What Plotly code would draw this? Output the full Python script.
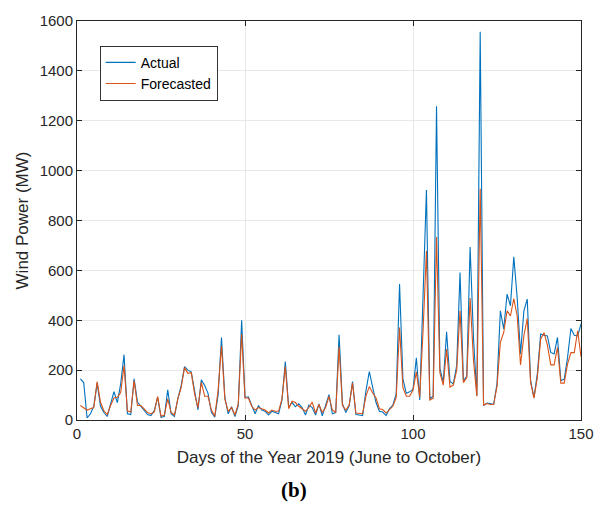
import plotly.graph_objects as go

# Daily wind power, June to October 2019 (MW)
days = list(range(1, 151))

actual = [
    165, 150, 8, 25, 55, 148, 55, 30, 14, 65,
    114, 70, 145, 262, 25, 22, 165, 72, 55, 38,
    22, 18, 38, 92, 11, 14, 121, 25, 14, 85,
    138, 214, 200, 193, 118, 41, 161, 138, 107, 31,
    11, 100, 331, 90, 25, 53, 14, 58, 400, 90,
    93, 60, 25, 57, 40, 35, 20, 35, 30, 25,
    80, 234, 51, 70, 53, 65, 50, 20, 60, 50,
    20, 65, 17, 58, 102, 25, 30, 342, 65, 30,
    57, 154, 22, 20, 18, 118, 194, 131, 70, 35,
    32, 18, 45, 60, 105, 545, 165, 107, 113, 123,
    249, 80, 500, 922, 85, 95, 1258, 208, 151, 354,
    155, 145, 218, 591, 158, 175, 694, 330, 98, 1557,
    58, 68, 66, 62, 145, 438, 365, 505, 458, 654,
    491, 265, 438, 485, 158, 91, 185, 345, 340, 337,
    271, 265, 331, 158, 163, 251, 367, 340, 337, 385,
]

forecasted = [
    58, 50, 40, 45, 50, 154, 71, 37, 22, 58,
    88, 91, 110, 218, 37, 32, 158, 58, 58, 45,
    30, 25, 32, 94, 15, 20, 85, 30, 20, 85,
    130, 210, 187, 190, 105, 50, 151, 95, 95, 40,
    15, 120, 298, 85, 35, 50, 20, 65, 345, 88,
    88, 55, 40, 50, 45, 40, 28, 40, 35, 35,
    85, 214, 45, 75, 70, 55, 45, 35, 50, 72,
    28, 62, 30, 50, 95, 40, 30, 294, 58, 40,
    60, 148, 28, 25, 25, 96, 134, 108, 88, 45,
    42, 28, 40, 55, 90, 371, 130, 95, 95, 120,
    193, 92, 360, 678, 80, 88, 734, 190, 140, 285,
    132, 140, 200, 438, 150, 170, 489, 240, 95, 927,
    60, 66, 62, 62, 135, 311, 351, 438, 417, 487,
    418, 221, 338, 407, 151, 88, 170, 325, 350, 300,
    221, 221, 291, 148, 148, 225, 270, 270, 358, 254,
]

x_ticks = [0, 50, 100, 150]
y_ticks = [0, 200, 400, 600, 800, 1000, 1200, 1400, 1600]

BLUE = "#0072BD"
ORANGE = "#D95319"
INK = "#262626"
GRID = "#E8E8E8"
FONT = "Liberation Sans, Arial, sans-serif"

fig = go.Figure()
fig.add_trace(go.Scatter(x=days, y=actual, mode="lines", name="Actual",
                         line=dict(color=BLUE, width=1.1)))
fig.add_trace(go.Scatter(x=days, y=forecasted, mode="lines", name="Forecasted",
                         line=dict(color=ORANGE, width=1.1)))

axis_common = dict(
    showline=True, linecolor=INK, linewidth=1, mirror="ticks",
    ticks="inside", ticklen=5, tickcolor=INK, tickwidth=1,
    showgrid=True, gridcolor=GRID, gridwidth=1, zeroline=False,
    tickfont=dict(family=FONT, size=15, color=INK),
)

fig.update_xaxes(range=[0, 150], tickvals=x_ticks,
                 title=dict(text="Days of the Year 2019 (June to October)",
                            font=dict(family=FONT, size=17, color=INK), standoff=10),
                 **axis_common)
fig.update_yaxes(range=[0, 1600], tickvals=y_ticks,
                 title=dict(text="Wind Power (MW)",
                            font=dict(family=FONT, size=17, color=INK), standoff=6),
                 **axis_common)

fig.update_layout(
    width=606, height=513,
    margin=dict(l=77, r=22, t=19, b=93),
    paper_bgcolor="white", plot_bgcolor="white",
    showlegend=True,
    legend=dict(x=0.045, y=0.938, xanchor="left", yanchor="top",
                bgcolor="white", bordercolor="#333333", borderwidth=1,
                font=dict(family=FONT, size=14, color="#000000"),
                tracegroupgap=0),
    annotations=[dict(text="<b>(b)</b>", xref="paper", yref="paper",
                      x=0.43, y=-0.175, xanchor="center", yanchor="middle",
                      showarrow=False,
                      font=dict(family="Liberation Serif, Times New Roman, serif",
                                size=21, color="#000000"))],
)

fig.write_html("out.html")
